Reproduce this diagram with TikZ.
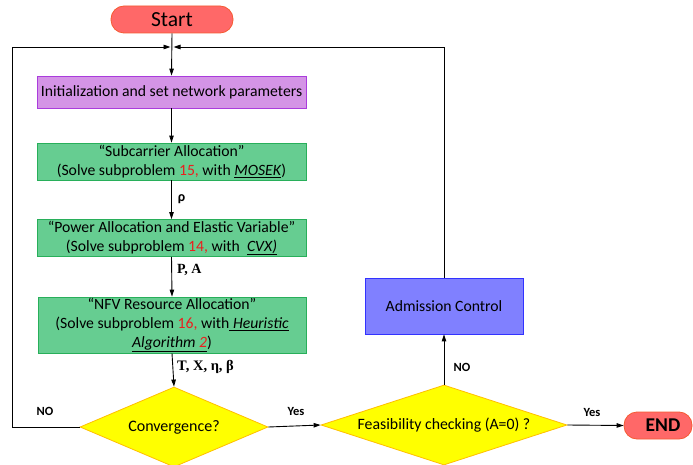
\documentclass[tikz,border=0pt]{standalone}
\usepackage{fontspec}
\setmainfont{Carlito}
\newfontfamily\serifb{Liberation Serif}
\usetikzlibrary{arrows.meta,shapes.geometric}
\definecolor{startfill}{RGB}{255,104,104}
\definecolor{startdraw}{RGB}{245,90,50}
\definecolor{purfill}{RGB}{212,148,230}
\definecolor{purdraw}{RGB}{170,60,220}
\definecolor{grnfill}{RGB}{102,205,145}
\definecolor{grndraw}{RGB}{40,175,90}
\definecolor{yelfill}{RGB}{255,255,0}
\definecolor{yeldraw}{RGB}{255,190,0}
\definecolor{blufill}{RGB}{128,128,255}
\definecolor{bludraw}{RGB}{50,50,255}
\definecolor{numred}{RGB}{235,30,30}
\tikzset{
  box/.style={draw, line width=0.8pt, inner sep=0pt, align=center, font=\fontsize{15.7}{19}\selectfont},
  term/.style={draw=startdraw, fill=startfill, line width=0.8pt, rounded corners=13pt, inner sep=0pt},
  dia/.style={diamond, draw=yeldraw, fill=yelfill, line width=0.8pt, inner sep=0pt},
  arr/.style={-{Triangle[length=7pt,width=4.5pt]}, line width=0.9pt},
  ln/.style={line width=0.9pt},
  lbl/.style={font=\bfseries\fontsize{12.5}{14}\selectfont, inner sep=0pt},
  slbl/.style={font=\serifb\bfseries\fontsize{14}{16}\selectfont, inner sep=0pt, anchor=west},
}
\begin{document}
\begin{tikzpicture}[x=1pt,y=-1pt]
\useasboundingbox (0,0) rectangle (693,465);
\node[term, minimum width=122pt, minimum height=27pt, font=\fontsize{21.5}{24}\selectfont] (start) at (172,19.5) {Start};
\node[box, draw=purdraw, fill=purfill, minimum width=269pt, minimum height=32pt] (init) at (171.5,92) {Initialization and set network parameters};
\node[box, draw=grndraw, fill=grnfill, minimum width=269pt, minimum height=37pt] (sub) at (171.5,161.5) {“Subcarrier Allocation”\\(Solve subproblem {\color{numred}15,} with \underline{\textit{MOSEK}})};
\node[box, draw=grndraw, fill=grnfill, minimum width=269pt, minimum height=37pt] (pow) at (171.5,238) {“Power Allocation and Elastic Variable”\\(Solve subproblem {\color{numred}14,} with \ \underline{\textit{CVX)}}};
\node[box, draw=grndraw, fill=grnfill, minimum width=268pt, minimum height=56pt] (nfv) at (172,325) {“NFV Resource Allocation”\\(Solve subproblem {\color{numred}16,} with\underline{\textit{ Heuristic}}\\\underline{\textit{Algorithm {\color{numred}2}}})};
\node[dia, minimum width=188pt, minimum height=80pt] (conv) at (174,427) {};
\node[font=\fontsize{16}{19}\selectfont, inner sep=0pt] (convt) at (conv.center) {Convergence?};
\node[dia, minimum width=246pt, minimum height=80pt] (feas) at (444,425) {};
\node[font=\fontsize{15.8}{19}\selectfont, inner sep=0pt] (feast) at (feas.center) {Feasibility checking (A=0) ?};
\node[box, draw=bludraw, fill=blufill, minimum width=158pt, minimum height=56pt] (adm) at (444,306) {Admission Control};
\node[term, minimum width=68pt, minimum height=27pt, font=\bfseries\fontsize{19.5}{22}\selectfont] (end) at (658,425.5) {\hspace*{10pt}END};
\coordinate (merge) at (172,47);
\coordinate (ll) at (12,427);
\coordinate (lt) at (12,47);
\coordinate (rt) at (444,47);
\coordinate (ml) at (170.5,47);
\coordinate (mr) at (173.5,47);
% main flow
\draw[arr] (start.south) -- (init.north);
\draw[arr] (init.south) -- (sub.north);
\draw[arr] (sub.south) -- (pow.north);
\draw[arr] (pow.south) -- (nfv.north);
\draw[arr] (nfv.south) -- (conv.north);
\draw[arr] (conv.east) -- (feas.west);
\draw[arr] (feas.east) -- (end.west);
\draw[arr] (feas.north) -- (adm.south);
% loops
\draw[arr] (conv.west) -- (ll) -- (lt) -- (ml);
\draw[arr] (adm.north) -- (rt) -- (mr);
% labels
\node[lbl, font=\bfseries\fontsize{14}{16}\selectfont] (rho) at (181.5,199) {ρ};
\node[slbl] (pa) at (177,270) {P, A};
\node[slbl, font=\serifb\bfseries\fontsize{14.5}{16}\selectfont] (txeb) at (177,367) {T, X, η, β};
\node[lbl] (no1) at (45,411) {NO};
\node[lbl] (yes1) at (296,411) {Yes};
\node[lbl] (no2) at (462,367) {NO};
\node[lbl] (yes2) at (592,412) {Yes};
\end{tikzpicture}
\end{document}
